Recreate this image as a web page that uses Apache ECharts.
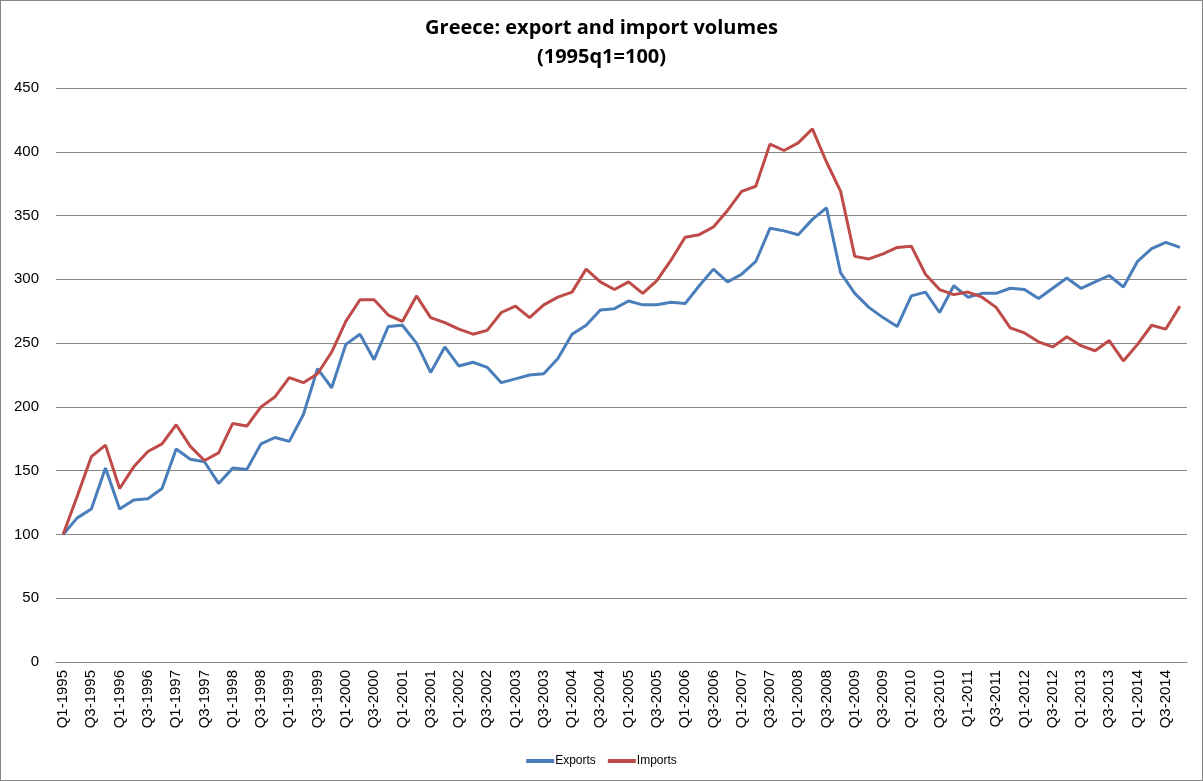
<!DOCTYPE html>
<html>
<head>
<meta charset="utf-8">
<script src="https://cdn.jsdelivr.net/npm/echarts@6/dist/echarts.min.js"></script>
<style>
html,body{margin:0;padding:0;background:#fff;}
#c{width:1203px;height:781px;box-sizing:border-box;border:1px solid #868686;}
</style>
</head>
<body>
<div id="c"></div>
<script>
var years = [];
for (var y = 1995; y <= 2014; y++) years.push(y);
var categories = [];
years.forEach(function(y){ ['Q1','Q2','Q3','Q4'].forEach(function(q){ categories.push(q + '-' + y); }); });

var exportsData = [100,113,120,152,120,127,128,136,167,159,
  157,140,152,151,171,176,173,194,230,215,
  249,257,237,263,264,250,227,247,232,235,
  231,219,222,225,226,238,257,264,276,277,
  283,280,280,282,281,295,308,298,304,314,
  340,338,335,347,356,305,289,278,270,263,
  287,290,274,295,286,289,289,293,292,285,
  293,301,293,298,303,294,314,324,329,325];

var importsData = [100,130,161,170,136,153,165,171,186,169,
  158,164,187,185,200,208,223,219,226,243,
  267,284,284,272,267,287,270,266,261,257,
  260,274,279,270,280,286,290,308,298,292,
  298,289,299,315,333,335,341,354,369,373,
  406,401,407,418,392,369,318,316,320,325,
  326,304,292,288,290,286,278,262,258,251,
  247,255,248,244,252,236,249,264,261,279];

var yTicks = [0,50,100,150,200,250,300,350,400,450];

var chart = echarts.init(document.getElementById('c'));
chart.setOption({
  animation: false,
  title: {
    text: 'Greece: export and import volumes\n(1995q1=100)',
    left: 'center',
    top: 8,
    textStyle: {fontFamily: 'Open Sans', fontWeight: 'bold', fontSize: 20, lineHeight: 29, color: '#000'}
  },
  legend: {
    bottom: 8,
    left: 'center',
    itemWidth: 28,
    itemHeight: 4,
    itemGap: 12,
    icon: 'rect',
    textStyle: {fontFamily: 'Liberation Sans', fontSize: 12, color: '#000', padding: [0,0,0,-4]},
    data: ['Exports','Imports']
  },
  grid: {left: 55, right: 15, top: 87, bottom: 118, containLabel: false},
  xAxis: {
    type: 'category',
    data: categories,
    boundaryGap: true,
    axisLine: {lineStyle: {color: '#868686', width: 1}},
    axisTick: {show: false},
    axisLabel: {rotate: 90, interval: 1, fontFamily: 'Liberation Sans', fontSize: 15, color: '#000', margin: 8}
  },
  yAxis: {
    type: 'value',
    min: yTicks[0],
    max: yTicks[yTicks.length-1],
    interval: 50,
    axisLine: {show: false},
    axisTick: {show: false},
    splitLine: {lineStyle: {color: '#868686', width: 1}},
    axisLabel: {fontFamily: 'Liberation Sans', fontSize: 15, color: '#000', margin: 17}
  },
  series: [
    {name: 'Exports', type: 'line', data: exportsData, symbol: 'none', lineStyle: {color: '#4A7EBB', width: 3}, itemStyle: {color: '#4A7EBB'}},
    {name: 'Imports', type: 'line', data: importsData, symbol: 'none', lineStyle: {color: '#BE4B48', width: 3}, itemStyle: {color: '#BE4B48'}}
  ]
});
</script>
</body>
</html>
